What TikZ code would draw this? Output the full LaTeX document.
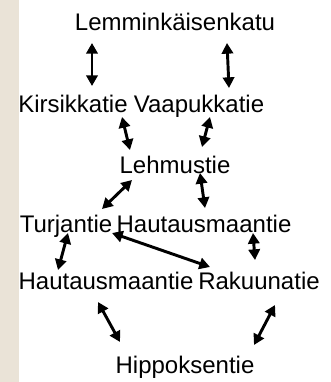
\documentclass[tikz,border=0pt]{standalone}
\usepackage{fontspec}
\setmainfont{Liberation Sans}
\usetikzlibrary{arrows.meta}
\definecolor{stripbeige}{RGB}{234,227,215}
\tikzset{
  street/.style={anchor=base,inner sep=0pt,font=\fontsize{18pt}{21pt}\selectfont},
  link/.style={{Triangle[length=8pt,width=8.5pt]}-{Triangle[length=8pt,width=8.5pt]},line width=2.2pt}
}
\begin{document}
\begin{tikzpicture}[x=0.75pt,y=-0.75pt]
\useasboundingbox (0,0) rectangle (331,382);
% The strip on the left
\fill[stripbeige] (0,0) rectangle (19,382);

% The streets
\node[street] (lemm) at (175,30) {Lemminkäisenkatu};
\node[street] (kirs) at (73,112) {Kirsikkatie};
\node[street] (vaap) at (199,112) {Vaapukkatie};
\node[street] (lehm) at (175,173) {Lehmustie};
\node[street] (turj) at (66,232) {Turjantie};
\node[street] (hautA) at (204,232) {Hautausmaantie};
\node[street] (hautB) at (106,289) {Hautausmaantie};
\node[street] (raku) at (259,289) {Rakuunatie};
\node[street] (hipp) at (185,373) {Hippoksentie};

% The links
\draw[link] ([shift={(-83,13)}]lemm.base) -- ([shift={(19,-26)}]kirs.base);
\draw[link] ([shift={(52,13)}]lemm.base) -- ([shift={(30,-24)}]vaap.base);
\draw[link] ([shift={(49,5)}]kirs.base) -- ([shift={(-45,-23)}]lehm.base);
\draw[link] ([shift={(11,5)}]vaap.base) -- ([shift={(27,-26)}]lehm.base);
\draw[link] ([shift={(-43,7)}]lehm.base) -- ([shift={(36,-23)}]turj.base);
\draw[link] ([shift={(25,0)}]lehm.base) -- ([shift={(1,-24)}]hautA.base);
\draw[link] ([shift={(2,1)}]turj.base) -- ([shift={(-48,-19)}]hautB.base);
\draw[link] ([shift={(46,1)}]turj.base) -- ([shift={(-49,-22)}]raku.base);
\draw[link] ([shift={(49,1)}]hautA.base) -- ([shift={(-4,-29)}]raku.base);
\draw[link] ([shift={(-8,13)}]hautB.base) -- ([shift={(-65,-31)}]hipp.base);
\draw[link] ([shift={(16,16)}]raku.base) -- ([shift={(69,-28)}]hipp.base);
\end{tikzpicture}
\end{document}
